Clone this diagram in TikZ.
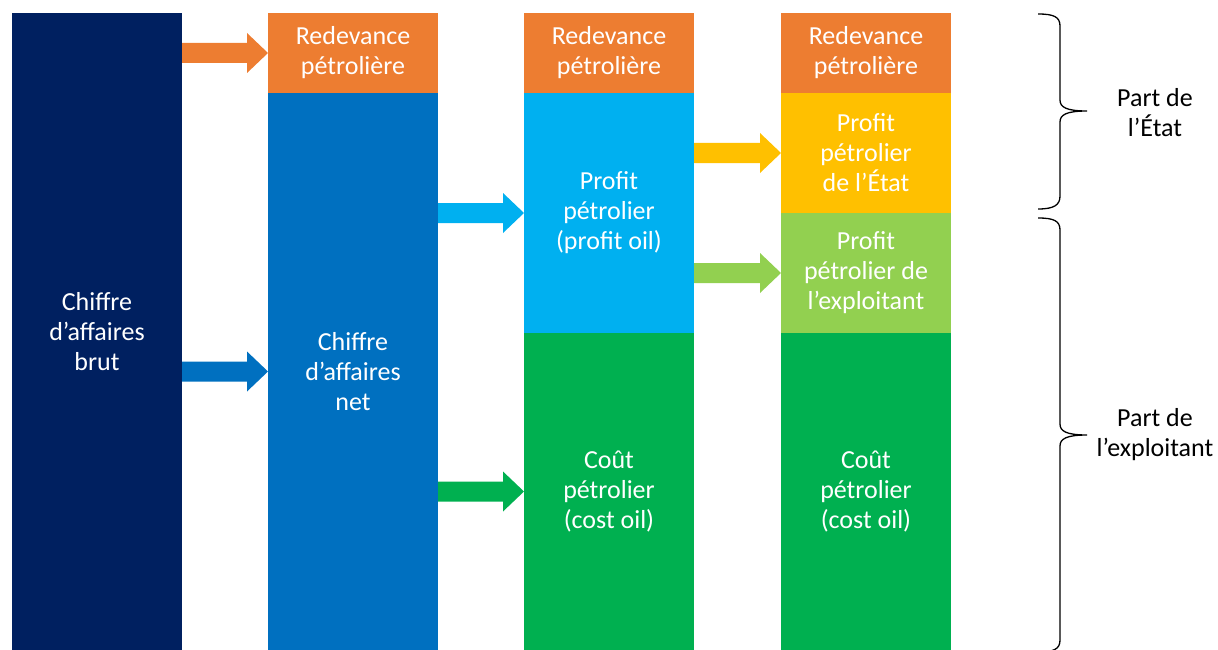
\documentclass[tikz,border=0pt]{standalone}
\usepackage{fontspec}
\setmainfont{Carlito}
\usetikzlibrary{calc,positioning}
\definecolor{cnavy}{HTML}{002060}
\definecolor{cblue}{HTML}{0070C0}
\definecolor{clight}{HTML}{00B0F0}
\definecolor{cgreen}{HTML}{00B050}
\definecolor{clime}{HTML}{92D050}
\definecolor{cyellow}{HTML}{FFC000}
\definecolor{corange}{HTML}{ED7D31}
\tikzset{
split/.style={x=1pt,y=-1pt,node distance=86pt},
block/.style={minimum width=170pt,inner sep=0pt,outer sep=0pt,align=center,
text=white,font=\fontsize{26}{30}\selectfont},
flow/.style={to path={let \p1=(\tikztostart),\p2=(\tikztotarget) in
(\x1,\y1+10pt) -- (\x2-21pt,\y1+10pt) -- (\x2-21pt,\y1+20pt) -- (\x2,\y1)
-- (\x2-21pt,\y1-20pt) -- (\x2-21pt,\y1-10pt) -- (\x1,\y1-10pt) -- cycle}},
brace/.style={draw=black,line width=1.3pt},
part/.style={align=center,inner sep=0pt,font=\fontsize{26}{30}\selectfont},
}
\begin{document}
\begin{tikzpicture}[split]
\useasboundingbox (0,0) rectangle (1218,650);
% columns
\node[block,fill=cnavy,minimum height=637pt] (gross) at (97,331.5) {Chiffre\\d’affaires\\brut};
\node[block,fill=corange,minimum height=80pt] (red2) [below right=0pt and 86pt of gross.north east] {Redevance\\pétrolière};
\node[block,fill=cblue,minimum height=557pt] (net) [below=0pt of red2] {Chiffre\\d’affaires\\net};
\node[block,fill=corange,minimum height=80pt] (red3) [right=of red2] {Redevance\\pétrolière};
\node[block,fill=clight,minimum height=240pt] (profit) [below=0pt of red3] {Profit\\pétrolier\\(profit oil)};
\node[block,fill=cgreen,minimum height=317pt] (cost) [below=0pt of profit] {Coût\\pétrolier\\(cost oil)};
\node[block,fill=corange,minimum height=80pt] (red4) [right=87pt of red3] {Redevance\\pétrolière};
\node[block,fill=cyellow,minimum height=120pt] (state) [below=0pt of red4] {Profit\\pétrolier\\de l’État};
\node[block,fill=clime,minimum height=120pt] (oper) [below=0pt of state] {Profit\\pétrolier de\\l’exploitant};
\node[block,fill=cgreen,minimum height=317pt] (cost4) [below=0pt of oper] {Coût\\pétrolier\\(cost oil)};

% arrows
\fill[corange] (gross.east |- red2.west) to[flow] (red2.west);
\fill[cblue] (gross.east |- net.west) to[flow] (net.west);
\fill[clight] (net.east |- profit.west) to[flow] (profit.west);
\fill[cgreen] (net.east |- cost.west) to[flow] (cost.west);
\fill[cyellow] (profit.east |- state.west) to[flow] (state.west);
\fill[clime] (profit.east |- oper.west) to[flow] (oper.west);

% braces
\coordinate (tip1) at (1087,111);
\coordinate (tip2) at (1087,435);
\draw[brace] (1038,14) .. controls (1054,14) and (1060,17) .. (1060,26) -- (1060,100)
.. controls (1060,107) and (1066,111) .. (tip1) .. controls (1066,111) and (1060,115) .. (1060,122)
-- (1060,196) .. controls (1060,205) and (1054,209) .. (1038,209);
\draw[brace] (1038,218) .. controls (1054,218) and (1060,221) .. (1060,230) -- (1060,424)
.. controls (1060,431) and (1066,435) .. (tip2) .. controls (1066,435) and (1060,439) .. (1060,446)
-- (1060,640) .. controls (1060,649) and (1054,652) .. (1038,652);
\node[part] (state part) at ($(tip1)+(68,2)$) {Part de\\l’État};
\node[part] (oper part) at ($(tip2)+(68,0)$) {Part de\\l’exploitant};
\end{tikzpicture}
\end{document}
